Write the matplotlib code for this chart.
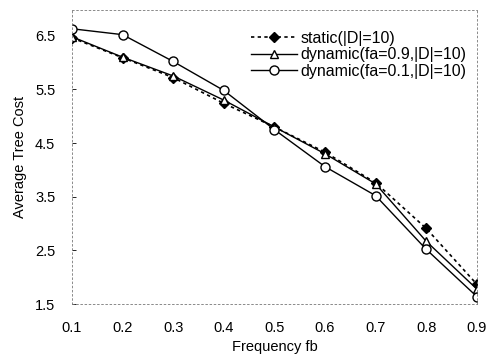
import matplotlib
matplotlib.use("Agg")
import matplotlib.pyplot as plt

plt.rcParams['font.family'] = ['Liberation Sans', 'DejaVu Sans']

fb = [0.1, 0.2, 0.3, 0.4, 0.5, 0.6, 0.7, 0.8, 0.9]
static_cost = [6.46, 6.09, 5.72, 5.24, 4.80, 4.33, 3.76, 2.91, 1.87]
dyn_fa09 = [6.48, 6.10, 5.75, 5.30, 4.80, 4.30, 3.74, 2.67, 1.78]
dyn_fa01 = [6.63, 6.52, 6.02, 5.48, 4.75, 4.06, 3.52, 2.52, 1.64]
xticks = [0.1, 0.2, 0.3, 0.4, 0.5, 0.6, 0.7, 0.8, 0.9]
yticks = [1.5, 2.5, 3.5, 4.5, 5.5, 6.5]

fig = plt.figure(figsize=(4.9, 3.63), dpi=100)
ax = fig.add_axes([0.147, 0.1625, 0.826, 0.81])

ax.plot(fb, static_cost, linestyle=(0, (2, 2)), color='black', lw=1.2,
        marker='D', markersize=5, markerfacecolor='black', label='static(|D|=10)')
ax.plot(fb, dyn_fa09, linestyle='-', color='black', lw=1.0,
        marker='^', markersize=6, markerfacecolor='white', label='dynamic(fa=0.9,|D|=10)')
ax.plot(fb, dyn_fa01, linestyle='-', color='black', lw=1.0,
        marker='o', markersize=6.5, markerfacecolor='white', label='dynamic(fa=0.1,|D|=10)')

ax.set_xlim(0.1, 0.9)
ax.set_ylim(1.5, 6.98)
ax.set_xticks(xticks)
ax.set_xticklabels([f'{v:.1f}' for v in xticks], fontsize=10.5)
ax.set_yticks(yticks)
ax.set_yticklabels([f'{v:.1f}' for v in yticks], fontsize=10.5)
ax.tick_params(axis='y', direction='in', length=3, width=0.6, pad=12)
ax.tick_params(axis='x', length=0, pad=12)

for s in ax.spines.values():
    s.set_linestyle((0, (2, 3)))
    s.set_linewidth(0.6)
    s.set_color('#777777')

ax.set_xlabel('Frequency fb', fontsize=10.5, labelpad=4)
ax.set_ylabel('Average Tree Cost', fontsize=10.5, labelpad=6)

leg = ax.legend(loc='upper right', bbox_to_anchor=(0.975, 0.93), frameon=False,
                fontsize=11.5, handlelength=2.9, handletextpad=0.2, labelspacing=0.1,
                borderaxespad=0.0, borderpad=0.0)

fig.savefig('out.png', dpi=100)
